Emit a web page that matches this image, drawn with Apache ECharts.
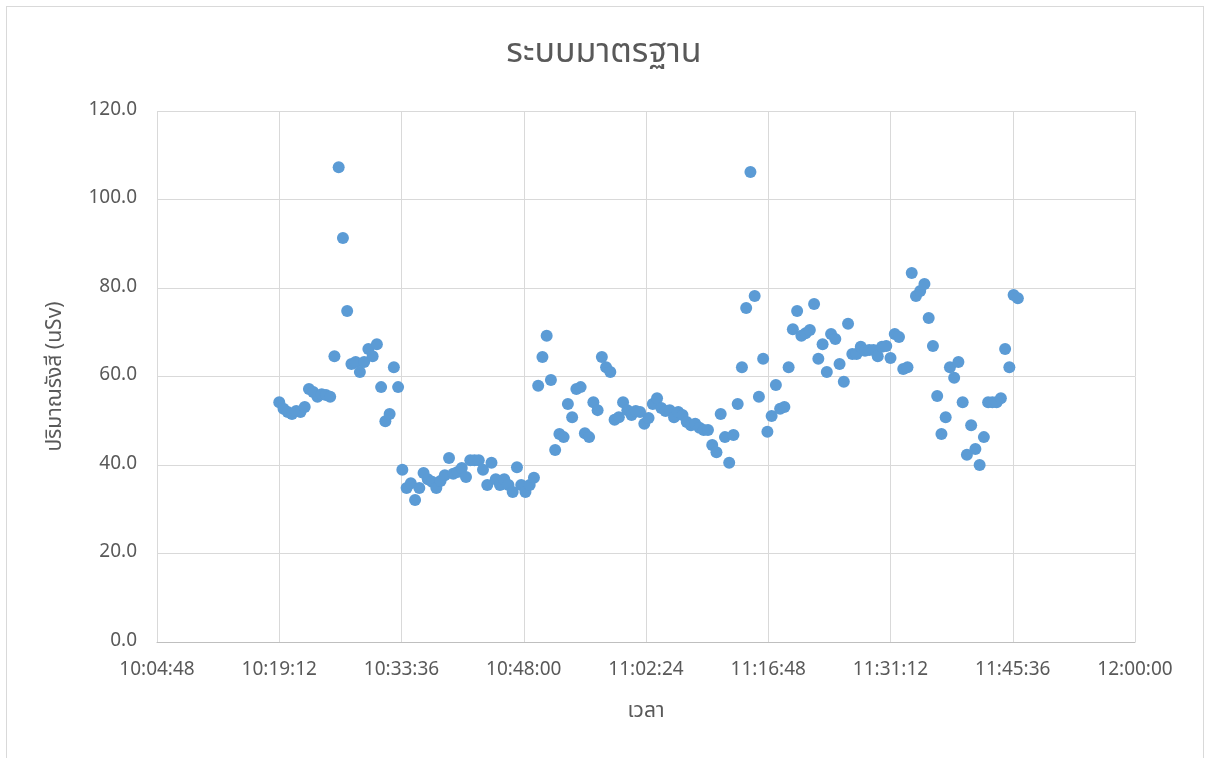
<!DOCTYPE html>
<html>
<head>
<meta charset="utf-8">
<script src="https://cdn.jsdelivr.net/npm/echarts@6/dist/echarts.min.js"></script>
<style>
  html, body { margin: 0; padding: 0; background: #ffffff; }
  #wrap { position: absolute; left: 6px; top: 6px; width: 1198px; height: 760px; border: 1px solid #d9d9d9; box-sizing: border-box; }
  #chart { position: absolute; left: 0; top: 0; width: 1208px; height: 758px; }
</style>
</head>
<body>
<div id="wrap"></div>
<div id="chart"></div>
<script>
// time of each reading (HH:MM:SS)
var times = [
  '10:19:12','10:19:42','10:20:12','10:20:42','10:21:12','10:21:42','10:22:12','10:22:42','10:23:12','10:23:42',
  '10:24:12','10:24:42','10:25:12','10:25:42','10:26:12','10:26:42','10:27:12','10:27:42','10:28:12','10:28:42',
  '10:29:12','10:29:42','10:30:12','10:30:42','10:31:12','10:31:42','10:32:12','10:32:42','10:33:12','10:33:42',
  '10:34:12','10:34:42','10:35:12','10:35:42','10:36:12','10:36:42','10:37:12','10:37:42','10:38:12','10:38:42',
  '10:39:12','10:39:42','10:40:12','10:40:42','10:41:12','10:41:42','10:42:12','10:42:42','10:43:12','10:43:42',
  '10:44:12','10:44:42','10:45:12','10:45:42','10:46:12','10:46:42','10:47:12','10:47:42','10:48:12','10:48:42',
  '10:49:12','10:49:42','10:50:12','10:50:42','10:51:12','10:51:42','10:52:12','10:52:42','10:53:12','10:53:42',
  '10:54:12','10:54:42','10:55:12','10:55:42','10:56:12','10:56:42','10:57:12','10:57:42','10:58:12','10:58:42',
  '10:59:12','10:59:42','11:00:12','11:00:42','11:01:12','11:01:42','11:02:12','11:02:42','11:03:12','11:03:42',
  '11:04:12','11:04:42','11:05:12','11:05:42','11:06:12','11:06:42','11:07:12','11:07:42','11:08:12','11:08:42',
  '11:09:12','11:09:42','11:10:12','11:10:42','11:11:12','11:11:42','11:12:12','11:12:42','11:13:12','11:13:42',
  '11:14:12','11:14:42','11:15:12','11:15:42','11:16:12','11:16:42','11:17:12','11:17:42','11:18:12','11:18:42',
  '11:19:12','11:19:42','11:20:12','11:20:42','11:21:12','11:21:42','11:22:12','11:22:42','11:23:12','11:23:42',
  '11:24:12','11:24:42','11:25:12','11:25:42','11:26:12','11:26:42','11:27:12','11:27:42','11:28:12','11:28:42',
  '11:29:12','11:29:42','11:30:12','11:30:42','11:31:12','11:31:42','11:32:12','11:32:42','11:33:12','11:33:42',
  '11:34:12','11:34:42','11:35:12','11:35:42','11:36:12','11:36:42','11:37:12','11:37:42','11:38:12','11:38:42',
  '11:39:12','11:39:42','11:40:12','11:40:42','11:41:12','11:41:42','11:42:12','11:42:42','11:43:12','11:43:42',
  '11:44:12','11:44:42','11:45:12','11:45:42','11:46:12'
];

// radiation dose (uSv)
var doseValues = [
  54.2, 52.7, 52.0, 51.5, 52.2, 52.0, 53.1, 57.2, 56.5, 55.4,
  56.0, 55.8, 55.4, 64.6, 107.3, 91.3, 74.8, 62.8, 63.3, 61.0,
  63.3, 66.2, 64.6, 67.3, 57.6, 49.9, 51.5, 62.1, 57.6, 38.9,
  34.8, 35.9, 32.1, 34.8, 38.2, 36.8, 36.2, 34.8, 36.4, 37.7,
  41.6, 38.0, 38.4, 39.3, 37.3, 41.1, 41.1, 41.1, 38.9, 35.5,
  40.5, 36.8, 35.5, 36.8, 35.5, 33.9, 39.5, 35.5, 33.9, 35.5,
  37.1, 57.9, 64.4, 69.2, 59.2, 43.4, 47.0, 46.3, 53.8, 50.8,
  57.2, 57.6, 47.2, 46.3, 54.2, 52.4, 64.4, 62.1, 61.0, 50.2,
  50.8, 54.2, 52.4, 51.3, 52.2, 52.0, 49.3, 50.6, 53.8, 55.1,
  52.9, 52.2, 52.4, 50.8, 52.0, 51.3, 49.7, 49.0, 49.3, 48.4,
  47.9, 47.9, 44.5, 42.9, 51.5, 46.3, 40.5, 46.8, 53.8, 62.1,
  75.5, 106.2, 78.2, 55.4, 64.0, 47.5, 51.1, 58.1, 52.7, 53.1,
  62.1, 70.7, 74.8, 69.2, 69.8, 70.5, 76.4, 64.0, 67.3, 61.0,
  69.6, 68.5, 62.8, 58.8, 71.9, 65.1, 65.1, 66.7, 65.8, 66.0,
  66.0, 64.6, 66.7, 66.9, 64.2, 69.6, 68.9, 61.7, 62.1, 83.4,
  78.2, 79.3, 80.9, 73.2, 66.9, 55.6, 47.0, 50.8, 62.1, 59.7,
  63.3, 54.2, 42.3, 49.0, 43.6, 40.0, 46.3, 54.2, 54.2, 54.2,
  55.1, 66.2, 62.1, 78.4, 77.7
];

// x axis: 10:04:48 to 12:00:00, one tick every 14:24
var xMinTime = '10:04:48';
var xMaxTime = '12:00:00';
var xStepSeconds = 864;

var fontFamily = 'Tahoma, "Noto Sans Thai", "Noto Sans", "DejaVu Sans", sans-serif';

function toSeconds(t) {
    var p = t.split(':');
    return (+p[0]) * 3600 + (+p[1]) * 60 + (+p[2]);
}
function pad(n) { return (n < 10 ? '0' : '') + n; }
function toClock(s) {
    s = Math.round(s);
    return Math.floor(s / 3600) + ':' + pad(Math.floor(s % 3600 / 60)) + ':' + pad(s % 60);
}

var points = times.map(function (t, i) { return [toSeconds(t), doseValues[i]]; });

var chart = echarts.init(document.getElementById('chart'));

var option = {
    animation: false,
    title: {
        text: 'ระบบมาตรฐาน',
        left: 'center',
        top: 33,
        textStyle: { fontFamily: fontFamily, fontSize: 34, fontWeight: 'normal', color: '#595959' }
    },
    grid: { left: 157, right: 73, top: 111, bottom: 116 },
    xAxis: {
        type: 'value',
        min: toSeconds(xMinTime),
        max: toSeconds(xMaxTime),
        interval: xStepSeconds,
        name: 'เวลา',
        nameLocation: 'middle',
        nameGap: 60,
        nameTextStyle: { fontFamily: fontFamily, fontSize: 21, color: '#595959' },
        axisLine: { lineStyle: { color: '#bfbfbf', width: 1 } },
        axisTick: { show: false },
        axisLabel: {
            fontFamily: fontFamily, fontSize: 19, color: '#595959', margin: 20,
            formatter: function (v) { return toClock(v); }
        },
        splitLine: { show: true, lineStyle: { color: '#d9d9d9', width: 1 } }
    },
    yAxis: {
        type: 'value',
        min: 0,
        max: 120,
        interval: 20,
        name: 'ปริมาณรังสี (uSv)',
        nameLocation: 'middle',
        nameGap: 90,
        nameRotate: 90,
        nameTextStyle: { fontFamily: fontFamily, fontSize: 21, color: '#595959' },
        axisLine: { show: false },
        axisTick: { show: false },
        axisLabel: {
            fontFamily: fontFamily, fontSize: 19, color: '#595959', margin: 20,
            formatter: function (v) { return v.toFixed(1); }
        },
        splitLine: { show: true, lineStyle: { color: '#d9d9d9', width: 1 } }
    },
    series: [{
        type: 'scatter',
        data: points,
        symbol: 'circle',
        symbolSize: 12,
        itemStyle: { color: '#5b9bd5', opacity: 1 }
    }]
};

chart.setOption(option);
</script>
</body>
</html>
